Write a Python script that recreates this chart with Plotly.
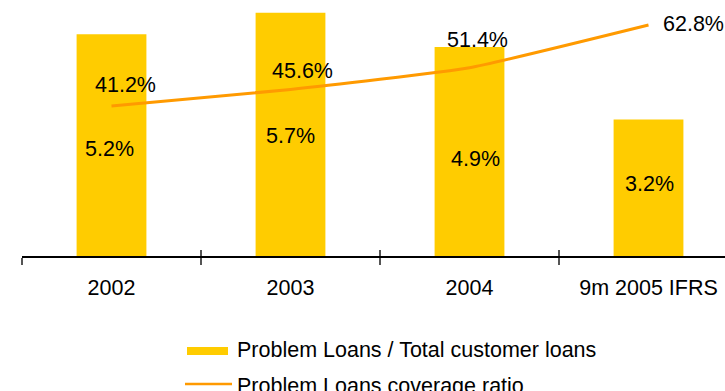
import plotly.graph_objects as go

# Data
categories = ["2002", "2003", "2004", "9m 2005 IFRS"]
problem_loans_ratio = [5.2, 5.7, 4.9, 3.2]      # % of total customer loans (bars)
coverage_ratio = [41.2, 45.6, 51.4, 62.8]       # % coverage (line)
series_names = ["Problem Loans / Total customer loans", "Problem Loans coverage ratio"]

BAR_COLOR = "#FFCC00"
LINE_COLOR = "#FF9A00"
FONT = "Liberation Sans, Arial, sans-serif"
FS = 21.5

W, H = 725, 391
ML, MR, MT, MB = 22, 0, 0, 135
plot_w = W - ML - MR
plot_h = H - MT - MB
cat_px = 179.0
x_range = [-0.5, -0.5 + plot_w / cat_px]

fig = go.Figure()

fig.add_trace(go.Bar(
    x=categories, y=problem_loans_ratio, name=series_names[0],
    marker=dict(color=BAR_COLOR, line=dict(width=0)),
    width=0.39, xaxis="x", yaxis="y", showlegend=False,
))

fig.add_trace(go.Scatter(
    x=categories, y=coverage_ratio, name=series_names[1],
    mode="lines", line=dict(color=LINE_COLOR, width=3, shape="spline", smoothing=0.4),
    xaxis="x2", yaxis="y2", showlegend=False,
))

annotations = []
# Value labels inside the bars (x given as category index)
bar_shift = [(-2, -4), (0, -2), (6, -8), (1, 4)]
for i, (v, (dx, dy)) in enumerate(zip(problem_loans_ratio, bar_shift)):
    annotations.append(dict(
        x=i, y=v / 2, xref="x", yref="y", text=f"{v:.1f}%", showarrow=False,
        xshift=dx, yshift=dy, font=dict(family=FONT, size=FS, color="#000000"),
    ))
# Value labels next to the line points
line_shift = [(14, 21), (12, 19), (8, 28), (45, 1)]
for i, (v, (dx, dy)) in enumerate(zip(coverage_ratio, line_shift)):
    annotations.append(dict(
        x=i, y=v, xref="x2", yref="y2", text=f"{v:.1f}%", showarrow=False,
        xshift=dx, yshift=dy, font=dict(family=FONT, size=FS, color="#000000"),
    ))

# Legend drawn below the axis
def px_x(p):
    return (p - ML) / plot_w

def px_y(p):
    return (MT + plot_h - p) / plot_h

shapes = [
    dict(type="rect", xref="paper", yref="paper",
         x0=px_x(187), x1=px_x(228), y0=px_y(355), y1=px_y(347),
         fillcolor=BAR_COLOR, line=dict(width=0)),
    dict(type="line", xref="paper", yref="paper",
         x0=px_x(185), x1=px_x(232), y0=px_y(384), y1=px_y(384),
         line=dict(color=LINE_COLOR, width=2.5)),
]
for name, yc in zip(series_names, [350, 386]):
    annotations.append(dict(
        x=px_x(235), y=px_y(yc), xref="paper", yref="paper", text=name,
        showarrow=False, xanchor="left", yanchor="middle",
        font=dict(family=FONT, size=FS, color="#000000"),
    ))

fig.update_layout(
    width=W, height=H,
    margin=dict(l=ML, r=MR, t=MT, b=MB, pad=0),
    paper_bgcolor="white", plot_bgcolor="white",
    font=dict(family=FONT, size=FS, color="#000000"),
    bargap=0.61,
    xaxis=dict(
        type="category", range=x_range, tickson="boundaries",
        ticks="outside", ticklen=7, tickwidth=1.5, tickcolor="#555555",
        showline=True, linecolor="#000000", linewidth=1.5,
        showgrid=False, zeroline=False,
        tickfont=dict(family=FONT, size=FS, color="#000000"),
        ticklabelstandoff=11,
    ),
    xaxis2=dict(
        type="category", range=x_range, overlaying="x", anchor="y2",
        tickson="boundaries", ticks="inside", ticklen=6, tickwidth=1.5, tickcolor="#555555",
        showticklabels=False, showline=False, showgrid=False, zeroline=False,
    ),
    yaxis=dict(range=[0, 6], visible=False, showgrid=False, zeroline=False),
    yaxis2=dict(range=[1.2, 69.47], overlaying="y", anchor="x2", visible=False,
                showgrid=False, zeroline=False),
    shapes=shapes,
    annotations=annotations,
    showlegend=False,
)

fig.write_html("out.html")
